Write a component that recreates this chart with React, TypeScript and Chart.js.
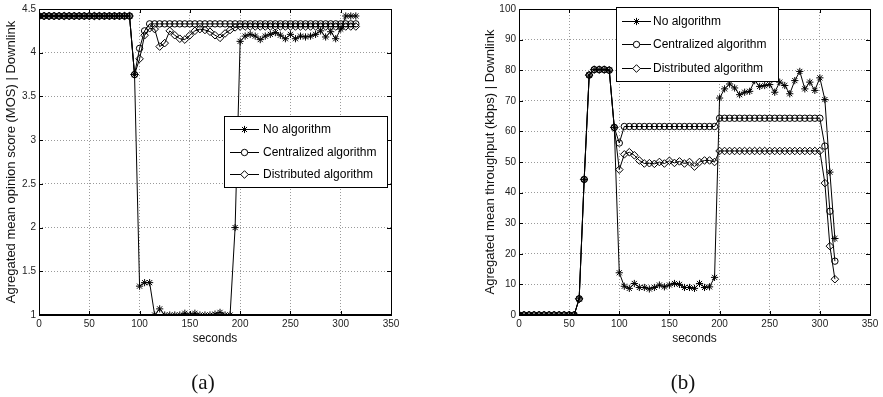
import React, { useEffect, useRef } from 'react';
import { Chart, registerables } from 'chart.js';
import { drawPoint } from 'chart.js/helpers';

Chart.register(...registerables);
Chart.defaults.font.family = '"Liberation Sans", Arial, sans-serif';

// ---------- data ----------
const seconds = [
  0, 5, 10, 15, 20, 25, 30, 35, 40, 45, 50, 55, 60, 65, 70, 75, 80, 85, 90, 95,
  100, 105, 110, 115, 120, 125, 130, 135, 140, 145, 150, 155, 160, 165, 170, 175, 180, 185, 190, 195,
  200, 205, 210, 215, 220, 225, 230, 235, 240, 245, 250, 255, 260, 265, 270, 275, 280, 285, 290, 295,
  300, 305, 310, 315,
];

const seriesNames = ['No algorithm', 'Centralized algorithm', 'Distributed algorithm'];

// (a) MOS
const mosNone = [
  4.42, 4.42, 4.42, 4.42, 4.42, 4.42, 4.42, 4.42, 4.42, 4.42, 4.42, 4.42, 4.42, 4.42, 4.42, 4.42, 4.42, 4.42, 4.42, 3.75,
  1.33, 1.37, 1.37, 1.0, 1.07, 1.0, 1.0, 1.0, 1.0, 1.02, 1.0, 1.02, 1.0, 1.0, 1.0, 1.01, 1.03, 1.0, 1.0, 2.0,
  4.13, 4.19, 4.21, 4.19, 4.15, 4.19, 4.21, 4.23, 4.2, 4.16, 4.21, 4.16, 4.19, 4.18, 4.19, 4.21, 4.25, 4.18, 4.24, 4.16,
  4.27, 4.42, 4.42, 4.42,
];
const mosCentral = [
  4.42, 4.42, 4.42, 4.42, 4.42, 4.42, 4.42, 4.42, 4.42, 4.42, 4.42, 4.42, 4.42, 4.42, 4.42, 4.42, 4.42, 4.42, 4.42, 3.75,
  4.05, 4.25, 4.33, 4.33, 4.33, 4.33, 4.33, 4.33, 4.33, 4.33, 4.33, 4.33, 4.33, 4.33, 4.33, 4.33, 4.33, 4.33, 4.33, 4.33,
  4.33, 4.33, 4.33, 4.33, 4.33, 4.33, 4.33, 4.33, 4.33, 4.33, 4.33, 4.33, 4.33, 4.33, 4.33, 4.33, 4.33, 4.33, 4.33, 4.33,
  4.33, 4.33, 4.33, 4.33,
];
const mosDist = [
  4.42, 4.42, 4.42, 4.42, 4.42, 4.42, 4.42, 4.42, 4.42, 4.42, 4.42, 4.42, 4.42, 4.42, 4.42, 4.42, 4.42, 4.42, 4.42, 3.75,
  3.93, 4.2, 4.28, 4.27, 4.07, 4.11, 4.25, 4.2, 4.16, 4.15, 4.2, 4.25, 4.27, 4.26, 4.24, 4.2, 4.17, 4.22, 4.26, 4.29,
  4.3, 4.3, 4.3, 4.3, 4.3, 4.3, 4.3, 4.3, 4.3, 4.3, 4.3, 4.3, 4.3, 4.3, 4.3, 4.3, 4.3, 4.3, 4.3, 4.3,
  4.3, 4.3, 4.3, 4.3,
];

// (b) throughput (kbps)
const tpNone = [
  0, 0, 0, 0, 0, 0, 0, 0, 0, 0, 0, 0, 5.3, 44.3, 78.4, 80.2, 80.2, 80.2, 80, 61.3,
  13.8, 9.4, 8.7, 10.3, 9.0, 9.0, 8.5, 9.0, 9.8, 9.2, 9.8, 10.3, 10.0, 9.0, 9.0, 8.7, 10.3, 9.0, 9.2, 12.3,
  70.9, 73.9, 75.5, 74.2, 72.0, 72.8, 73.1, 76.6, 74.7, 75.0, 75.3, 72.8, 76.1, 75.0, 72.3, 76.6, 79.6, 73.9, 76.1, 73.4,
  77.5, 70.4, 46.7, 25.0,
];
const tpCentral = [
  0, 0, 0, 0, 0, 0, 0, 0, 0, 0, 0, 0, 5.3, 44.3, 78.4, 80.2, 80.2, 80.2, 80, 61.3,
  56.2, 61.6, 61.6, 61.6, 61.6, 61.6, 61.6, 61.6, 61.6, 61.6, 61.6, 61.6, 61.6, 61.6, 61.6, 61.6, 61.6, 61.6, 61.6, 61.6,
  64.3, 64.3, 64.3, 64.3, 64.3, 64.3, 64.3, 64.3, 64.3, 64.3, 64.3, 64.3, 64.3, 64.3, 64.3, 64.3, 64.3, 64.3, 64.3, 64.3,
  64.3, 55.2, 33.9, 17.6,
];
const tpDist = [
  0, 0, 0, 0, 0, 0, 0, 0, 0, 0, 0, 0, 5.3, 44.3, 78.4, 80.2, 80.2, 80.2, 80, 61.3,
  47.5, 52.5, 53.2, 52.2, 50.5, 49.5, 49.6, 49.4, 50.0, 49.5, 50.4, 49.7, 50.2, 49.5, 50.0, 48.5, 50.0, 50.5, 50.5, 50.0,
  53.6, 53.6, 53.6, 53.6, 53.6, 53.6, 53.6, 53.6, 53.6, 53.6, 53.6, 53.6, 53.6, 53.6, 53.6, 53.6, 53.6, 53.6, 53.6, 53.6,
  53.6, 43.1, 22.5, 11.7,
];

const xTicks = [0, 50, 100, 150, 200, 250, 300, 350];
const mosTicks = [1, 1.5, 2, 2.5, 3, 3.5, 4, 4.5];
const tpTicks = [0, 10, 20, 30, 40, 50, 60, 70, 80, 90, 100];

// ---------- styles ----------
const markerStyles = ['star', 'circle', 'rectRot'];
const markerRadius = [3.6, 3.2, 3.8];

const framePlugin = {
  id: 'frameLegend',
  afterDatasetsDraw(chart: any, _a: any, opts: any) {
    const { ctx, chartArea: a, scales } = chart;
    const L = Math.round(a.left), R = Math.round(a.right), T = Math.round(a.top), B = Math.round(a.bottom);
    ctx.save();
    ctx.strokeStyle = '#000';
    ctx.lineWidth = 1;
    ctx.strokeRect(L + 0.5, T + 0.5, R - L, B - T);
    ctx.lineWidth = 2;
    ctx.beginPath();
    ctx.moveTo(L, B);
    ctx.lineTo(R + 1, B);
    ctx.stroke();
    ctx.lineWidth = 1;
    const tl = 4;
    ctx.beginPath();
    scales.x.ticks.forEach((t: any) => {
      const px = Math.round(scales.x.getPixelForValue(t.value)) + 0.5;
      ctx.moveTo(px, B); ctx.lineTo(px, B - tl);
      ctx.moveTo(px, T); ctx.lineTo(px, T + tl);
    });
    scales.y.ticks.forEach((t: any) => {
      const py = Math.round(scales.y.getPixelForValue(t.value)) + 0.5;
      ctx.moveTo(L, py); ctx.lineTo(L + tl, py);
      ctx.moveTo(R, py); ctx.lineTo(R - tl, py);
    });
    ctx.stroke();
    ctx.restore();
  },
  afterDraw(chart: any, _a: any, opts: any) {
    const { ctx, chartArea: a } = chart;
    const lg = opts.box;
    if (!lg) return;
    const x0 = Math.round(a.left + lg.dx), y0 = Math.round(a.top + lg.dy);
    ctx.save();
    ctx.fillStyle = '#fff';
    ctx.fillRect(x0, y0, lg.w, lg.h);
    ctx.strokeStyle = '#000';
    ctx.lineWidth = 1;
    ctx.strokeRect(x0 + 0.5, y0 + 0.5, lg.w, lg.h);
    ctx.font = '12px "Liberation Sans", Arial, sans-serif';
    ctx.textBaseline = 'middle';
    seriesNames.forEach((name, i) => {
      const y = y0 + lg.rows[i];
      ctx.strokeStyle = '#000';
      ctx.lineWidth = 1;
      ctx.beginPath();
      ctx.moveTo(x0 + lg.l0, y + 0.5);
      ctx.lineTo(x0 + lg.l1, y + 0.5);
      ctx.stroke();
      ctx.fillStyle = '#fff';
      drawPoint(ctx, { pointStyle: markerStyles[i], radius: markerRadius[i], borderWidth: 1, rotation: 0 } as any,
        x0 + (lg.l0 + lg.l1) / 2, y + 0.5);
      ctx.fillStyle = '#000';
      ctx.fillText(name, x0 + lg.tx, y + 1);
    });
    ctx.restore();
  },
};

function makeConfig(p: any) {
  return {
    type: 'line',
    data: {
      datasets: seriesNames.map((name, i) => ({
        label: name,
        data: seconds.map((s, j) => ({ x: s, y: p.series[i][j] })),
        borderColor: '#000',
        borderWidth: 1,
        pointStyle: markerStyles[i],
        pointRadius: markerRadius[i],
        pointBorderWidth: 1,
        pointBorderColor: '#000',
        pointBackgroundColor: 'rgba(255,255,255,0)',
        tension: 0,
        fill: false,
      })),
    },
    options: {
      animation: false,
      responsive: false,
      devicePixelRatio: 1,
      events: [],
      layout: { padding: p.padding },
      plugins: {
        legend: { display: false },
        tooltip: { enabled: false },
        frameLegend: { box: p.legend },
      },
      scales: {
        x: {
          type: 'linear',
          min: 0,
          max: 350,
          afterBuildTicks: (s: any) => { s.ticks = xTicks.map((v) => ({ value: v })); },
          afterFit: (s: any) => { s.height = 31; },
          grid: { color: '#9a9a9a', lineWidth: 1, drawTicks: false },
          border: { display: false, dash: [1, 2] },
          ticks: { font: { size: 10 }, color: '#222', padding: 3, autoSkip: false, maxRotation: 0, callback: (v: any) => String(v) },
          title: { display: true, text: 'seconds', font: { size: 12 }, color: '#111', padding: { top: 0, bottom: 0 } },
        },
        y: {
          type: 'linear',
          min: p.yMin,
          max: p.yMax,
          afterBuildTicks: (s: any) => { s.ticks = p.yTicks.map((v: number) => ({ value: v })); },
          afterFit: (s: any) => { s.width = p.yWidth; },
          grid: { color: '#9a9a9a', lineWidth: 1, drawTicks: false },
          border: { display: false, dash: [1, 2] },
          ticks: { font: { size: 10 }, color: '#222', padding: 3, autoSkip: false, callback: (v: any) => String(v) },
          title: { display: true, text: p.yTitle, font: { size: 13 }, color: '#111', padding: { top: p.yTitlePad, bottom: 0 } },
        },
      },
    },
    plugins: [framePlugin],
  } as any;
}

function ChartCanvas(props: { cfg: any; left: number; width: number }) {
  const ref = useRef<HTMLCanvasElement | null>(null);
  useEffect(() => {
    if (!ref.current) return;
    const chart = new Chart(ref.current, props.cfg);
    return () => chart.destroy();
  }, []);
  return (
    <canvas
      ref={ref}
      width={props.width}
      height={397}
      style={{ position: 'absolute', left: props.left, top: 0, width: props.width, height: 397 }}
    />
  );
}

const cfgA = makeConfig({
  series: [mosNone, mosCentral, mosDist],
  yMin: 1,
  yMax: 4.5,
  yTicks: mosTicks,
  yTitle: 'Agregated mean opinion score (MOS) | Downlink',
  padding: { left: 0, top: 8, right: 50, bottom: 51 },
  yWidth: 39,
  yTitlePad: 4,
  legend: { dx: 185, dy: 107, w: 163, h: 71, rows: [13, 36, 58], l0: 6, l1: 35, tx: 39 },
});

const cfgB = makeConfig({
  series: [tpNone, tpCentral, tpDist],
  yMin: 0,
  yMax: 100,
  yTicks: tpTicks,
  yTitle: 'Agregated mean throughput (kbps) | Downlink',
  padding: { left: 0, top: 8, right: 13, bottom: 51 },
  yWidth: 78,
  yTitlePad: 42,
  legend: { dx: 97, dy: -2, w: 162, h: 74, rows: [14, 37, 61], l0: 6, l1: 35, tx: 37 },
});

const capStyle: React.CSSProperties = {
  position: 'absolute',
  top: 369,
  width: 60,
  textAlign: 'center',
  fontFamily: '"Liberation Serif", "DejaVu Serif", serif',
  fontSize: 21,
  lineHeight: '26px',
  color: '#111',
};

export default function App() {
  return (
    <div style={{ position: 'absolute', left: 0, top: 0, width: 883, height: 397, background: '#fff', overflow: 'hidden' }}>
      <ChartCanvas cfg={cfgA} left={0} width={441} />
      <ChartCanvas cfg={cfgB} left={441} width={442} />
      <div style={{ ...capStyle, left: 173 }}>(a)</div>
      <div style={{ ...capStyle, left: 653 }}>(b)</div>
    </div>
  );
}
